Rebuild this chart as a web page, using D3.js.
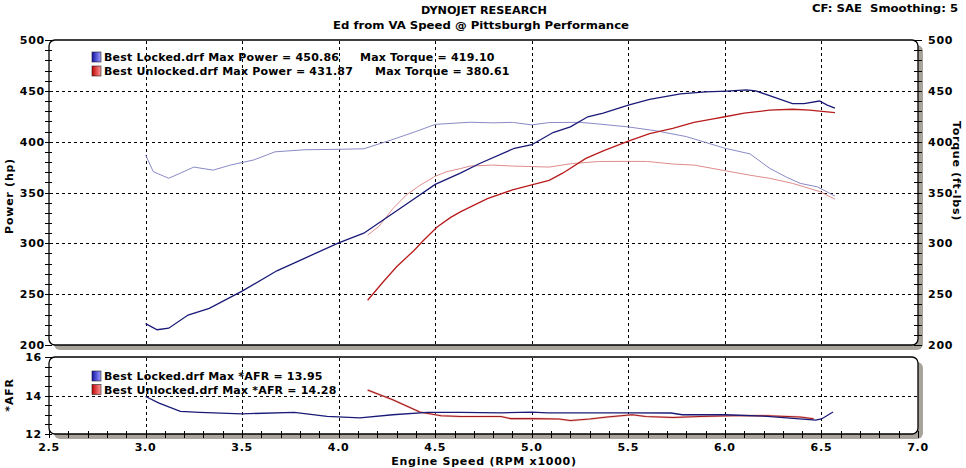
<html>
<head>
<script src="https://cdn.jsdelivr.net/npm/d3@7/dist/d3.min.js"></script>
<style>
  body { margin: 0; background: #fff; }
  text { font-family: "DejaVu Sans", Verdana, sans-serif; font-weight: bold; fill: #000; letter-spacing: 0.75px; white-space: pre; }
  text.ttl { font-family: "DejaVu Sans Condensed", sans-serif; letter-spacing: 0; }
  text.leg { letter-spacing: 0.2px; }
</style>
</head>
<body>
<svg id="chart" width="966" height="468"></svg>
<script>
// ---- data ----
var lockedPowerRpm = [3.0,3.06,3.12,3.22,3.33,3.5,3.68,3.82,4.0,4.13,4.2,4.35,4.5,4.63,4.73,4.91,5.0,5.11,5.2,5.29,5.37,5.5,5.61,5.77,5.9,6.01,6.11,6.16,6.25,6.35,6.41,6.49,6.53,6.57];
var lockedPower    = [221,215,216.5,229.5,236,253,273,285,300.5,310,319,338.5,358,369,378.5,393.5,397,409,414.5,424.5,428,436,441.5,447,449,449.8,450.86,450,444,437.5,437.5,440,436,433];

var lockedTorqueRpm = [3.0,3.04,3.12,3.18,3.25,3.35,3.44,3.56,3.67,3.82,4.0,4.13,4.27,4.4,4.5,4.68,4.8,4.9,5.0,5.09,5.25,5.34,5.5,5.65,5.8,6.0,6.13,6.23,6.32,6.39,6.48,6.57];
var lockedTorque    = [387,370.5,364,369,375,372,377,382,390,392,392.5,393,401.5,410,417,419.1,418.5,419,416.5,418.8,419,417.5,414.5,410.5,405,393.5,388,374,365,359,355.5,346.5];

var unlockedPowerRpm = [4.15,4.23,4.3,4.39,4.44,4.51,4.58,4.63,4.77,4.9,5.0,5.09,5.16,5.28,5.37,5.5,5.61,5.73,5.84,5.94,6.0,6.1,6.23,6.35,6.44,6.49,6.57];
var unlockedPower    = [244,262,277,293,303,316,325.5,331,344,352.5,357.5,362,369,383.5,391,400.5,408,413,419,422.5,424.5,428,431,431.87,431,430,428.5];

var unlockedTorqueRpm = [4.15,4.21,4.28,4.35,4.42,4.5,4.56,4.63,4.68,4.8,4.9,5.0,5.09,5.21,5.35,5.5,5.6,5.73,5.84,6.0,6.13,6.23,6.35,6.49,6.57];
var unlockedTorque    = [308,317,334,347.5,357,366,370.5,373.5,376,377,376,375.5,375,378.5,380.5,380.61,380.5,378,377,371.5,367,364,359,351,343.5];

var lockedAfrRpm = [3.0,3.07,3.18,3.28,3.5,3.77,3.94,4.11,4.28,4.46,4.63,4.84,5.0,5.08,5.5,5.72,5.78,6.0,6.22,6.32,6.47,6.5,6.56];
var lockedAfr    = [13.95,13.6,13.17,13.12,13.05,13.12,12.92,12.84,13.0,13.12,13.12,13.1,13.14,13.1,13.1,13.09,13.0,13.0,12.92,12.84,12.72,12.78,13.14];

var unlockedAfrRpm = [4.15,4.28,4.42,4.53,4.63,4.84,4.89,5.0,5.14,5.2,5.3,5.39,5.52,5.59,5.73,5.87,6.04,6.22,6.39,6.46];
var unlockedAfr    = [14.28,13.78,13.14,12.95,12.91,12.91,12.8,12.8,12.78,12.7,12.78,12.88,13.0,12.91,12.86,12.91,12.95,12.95,12.88,12.79];

var xTicks = [2.5,3.0,3.5,4.0,4.5,5.0,5.5,6.0,6.5,7.0];
var powerTicks = [200,250,300,350,400,450,500];
var afrTicks = [12,14,16];

var titleLines = ["DYNOJET RESEARCH", "Ed from VA Speed @ Pittsburgh Performance"];
var cornerNote = "CF: SAE  Smoothing: 5";
var topLegend = [
  {name: "Best Locked.drf Max Power = 450.86", extra: "Max Torque = 419.10", c0: "#1010a8", c1: "#a0a0ff"},
  {name: "Best Unlocked.drf Max Power = 431.87", extra: "Max Torque = 380.61", c0: "#c00000", c1: "#ff9c9c"}
];
var afrLegend = [
  {name: "Best Locked.drf Max *AFR = 13.95", c0: "#1010a8", c1: "#a0a0ff"},
  {name: "Best Unlocked.drf Max *AFR = 14.28", c0: "#c00000", c1: "#ff9c9c"}
];

// ---- scales ----
var svg = d3.select("#chart");
var x = d3.scaleLinear().domain([2.5, 7.0]).range([49, 918]);
var yTop = d3.scaleLinear().domain([200, 500]).range([345, 40]);
var yBot = d3.scaleLinear().domain([12, 16]).range([434, 357]);

var defs = svg.append("defs");
topLegend.forEach(function(d, i) {
  var g = defs.append("linearGradient").attr("id", "sw" + i);
  g.append("stop").attr("offset", "0%").attr("stop-color", d.c0);
  g.append("stop").attr("offset", "100%").attr("stop-color", d.c1);
});

// titles
svg.append("text").attr("class", "ttl").attr("x", 484).attr("y", 14).attr("text-anchor", "middle")
  .attr("font-size", 11).attr("textLength", 126).attr("lengthAdjust", "spacingAndGlyphs").text(titleLines[0]);
svg.append("text").attr("class", "ttl").attr("x", 481).attr("y", 29).attr("text-anchor", "middle")
  .attr("font-size", 11).attr("textLength", 296).attr("lengthAdjust", "spacingAndGlyphs").text(titleLines[1]);
svg.append("text").attr("class", "ttl").attr("x", 958).attr("y", 12).attr("text-anchor", "end")
  .attr("font-size", 11).attr("textLength", 146).attr("lengthAdjust", "spacingAndGlyphs").text(cornerNote);

// panels with grey drop shadow
function panel(y0, y1) {
  svg.append("rect").attr("x", x(2.5) + 5).attr("y", y0 + 5)
    .attr("width", x(7) - x(2.5)).attr("height", y1 - y0)
    .attr("rx", 6).attr("fill", "#a8a49c");
  svg.append("rect").attr("x", x(2.5)).attr("y", y0)
    .attr("width", x(7) - x(2.5)).attr("height", y1 - y0)
    .attr("rx", 6).attr("fill", "#fff").attr("stroke", "#000").attr("stroke-width", 1.3);
}
panel(yTop(500), yTop(200));
panel(yBot(16), yBot(12));

// dashed grid
var gridX = xTicks.filter(function(v) { return v > 2.5 && v < 7; });
function vgrid(ys) {
  svg.append("g").selectAll("line").data(gridX).enter().append("line")
    .attr("x1", function(d) { return Math.round(x(d)) + 0.5; })
    .attr("x2", function(d) { return Math.round(x(d)) + 0.5; })
    .attr("y1", ys.range()[1] + 1).attr("y2", ys.range()[0] - 1)
    .attr("stroke", "#000").attr("stroke-dasharray", "3,3");
}
vgrid(yTop); vgrid(yBot);
svg.append("g").selectAll("line").data(powerTicks.slice(1, -1)).enter().append("line")
  .attr("x1", x(2.5) + 1).attr("x2", x(7) - 1)
  .attr("y1", function(d) { return Math.round(yTop(d)) + 0.5; })
  .attr("y2", function(d) { return Math.round(yTop(d)) + 0.5; })
  .attr("stroke", "#000").attr("stroke-dasharray", "3,3");
svg.append("line").attr("x1", x(2.5) + 1).attr("x2", x(7) - 1)
  .attr("y1", Math.round(yBot(14)) + 0.5).attr("y2", Math.round(yBot(14)) + 0.5)
  .attr("stroke", "#000").attr("stroke-dasharray", "3,3");

// tick marks
var ticks = svg.append("g").attr("stroke", "#000").attr("stroke-width", 1);
d3.range(200, 501, 10).forEach(function(v) {
  var yy = Math.round(yTop(v)) + 0.5;
  ticks.append("line").attr("x1", x(2.5) - 4).attr("x2", x(2.5) + 3).attr("y1", yy).attr("y2", yy);
  ticks.append("line").attr("x1", x(7) - 4).attr("x2", x(7) + 4).attr("y1", yy).attr("y2", yy);
});
d3.range(12, 16.01, 0.5).forEach(function(v) {
  var yy = Math.round(yBot(v)) + 0.5;
  ticks.append("line").attr("x1", x(2.5) - 4).attr("x2", x(2.5) + 3).attr("y1", yy).attr("y2", yy);
});
d3.range(2.5, 7.01, 0.1).forEach(function(v) {
  var xx = Math.round(x(v)) + 0.5;
  ticks.append("line").attr("x1", xx).attr("x2", xx).attr("y1", yBot(12) - 3).attr("y2", yBot(12) + 4);
});

// tick labels
svg.append("g").selectAll("text").data(powerTicks).enter().append("text")
  .attr("x", 45).attr("y", function(d) { return yTop(d) + 4; })
  .attr("text-anchor", "end").attr("font-size", 11).text(function(d) { return d; });
svg.append("g").selectAll("text").data(powerTicks).enter().append("text")
  .attr("x", 928).attr("y", function(d) { return yTop(d) + 4; })
  .attr("font-size", 11).text(function(d) { return d; });
svg.append("g").selectAll("text").data(afrTicks).enter().append("text")
  .attr("x", 42).attr("y", function(d) { return yBot(d) + 4; })
  .attr("text-anchor", "end").attr("font-size", 11).text(function(d) { return d; });
svg.append("g").selectAll("text").data(xTicks).enter().append("text")
  .attr("x", function(d) { return x(d); }).attr("y", 451)
  .attr("text-anchor", "middle").attr("font-size", 11).text(function(d) { return d.toFixed(1); });

// axis titles
svg.append("text").attr("transform", "translate(13,196) rotate(-90)")
  .attr("text-anchor", "middle").attr("font-size", 11).text("Power (hp)");
svg.append("text").attr("transform", "translate(953,171) rotate(90)")
  .attr("text-anchor", "middle").attr("font-size", 11).text("Torque (ft-lbs)");
svg.append("text").attr("transform", "translate(13,395) rotate(-90)")
  .attr("text-anchor", "middle").attr("font-size", 11).text("*AFR");
svg.append("text").attr("x", 484).attr("y", 465)
  .attr("text-anchor", "middle").attr("font-size", 11).text("Engine Speed (RPM x1000)");

// curves
function curve(rpm, vals, ys, color, width) {
  var pts = rpm.map(function(r, i) { return [r, vals[i]]; });
  svg.append("path").datum(pts)
    .attr("d", d3.line().x(function(d) { return x(d[0]); }).y(function(d) { return ys(d[1]); }))
    .attr("fill", "none").attr("stroke", color).attr("stroke-width", width);
}
curve(lockedTorqueRpm, lockedTorque, yTop, "#8a8ac6", 1);
curve(unlockedTorqueRpm, unlockedTorque, yTop, "#e08c8c", 1);
curve(lockedPowerRpm, lockedPower, yTop, "#1a1a78", 1.3);
curve(unlockedPowerRpm, unlockedPower, yTop, "#b81c1c", 1.3);
curve(unlockedAfrRpm, unlockedAfr, yBot, "#f4c0c0", 2.2);
curve(unlockedAfrRpm, unlockedAfr, yBot, "#a01818", 1.1);
curve(lockedAfrRpm, lockedAfr, yBot, "#1a1a78", 1.3);

// legends
function swatch(xx, yy, i) {
  svg.append("rect").attr("x", xx).attr("y", yy).attr("width", 9).attr("height", 10)
    .attr("fill", "url(#sw" + i + ")").attr("stroke", "#202020").attr("stroke-width", 0.6);
}
topLegend.forEach(function(d, i) {
  var by = 61 + i * 14;
  swatch(92, by - 9, i);
  svg.append("text").attr("class", "leg").attr("x", 104).attr("y", by).attr("font-size", 11).text(d.name);
  svg.append("text").attr("class", "leg").attr("x", i == 0 ? 360 : 375).attr("y", by).attr("font-size", 11).text(d.extra);
});
afrLegend.forEach(function(d, i) {
  var by = 380 + i * 13.5;
  swatch(92, by - 9, i);
  svg.append("text").attr("class", "leg").attr("x", 104).attr("y", by).attr("font-size", 11).text(d.name);
});
</script>
</body>
</html>
